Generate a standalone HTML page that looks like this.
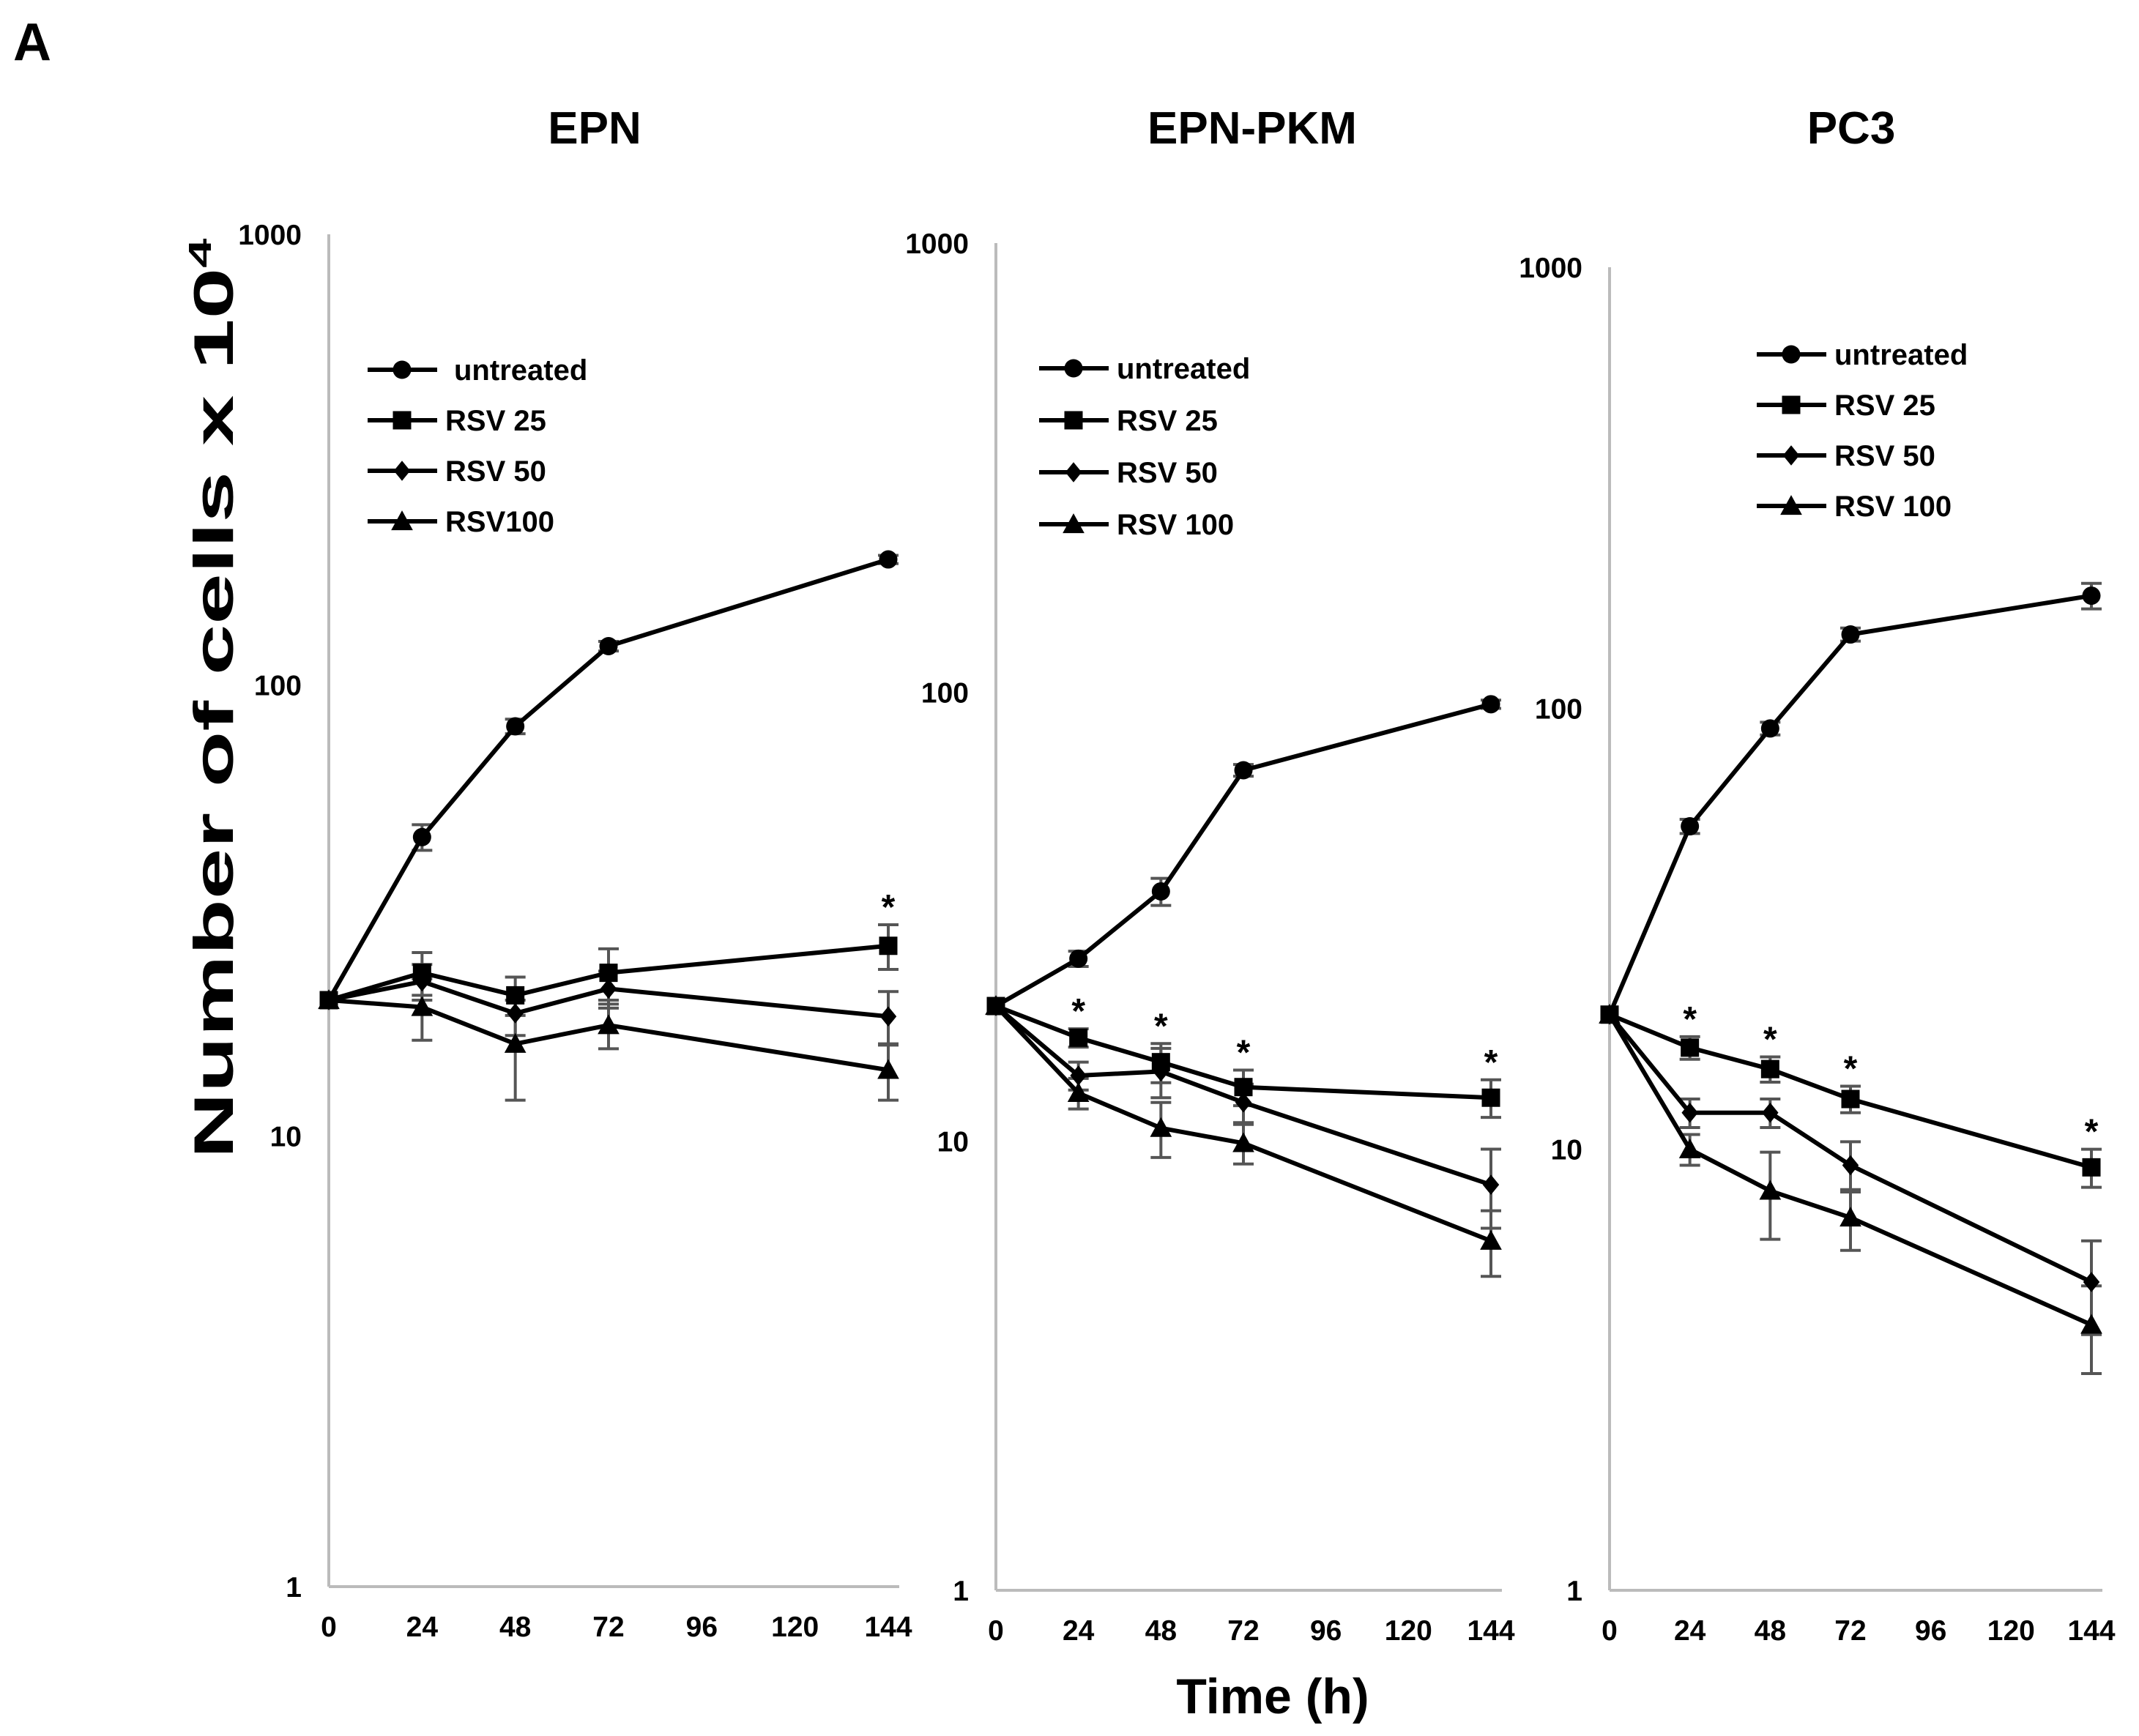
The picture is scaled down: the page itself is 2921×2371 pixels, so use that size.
<!DOCTYPE html>
<html><head><meta charset="utf-8"><style>
html,body{margin:0;padding:0;background:#fff;}
svg{display:block;font-family:"Liberation Sans",Arial,sans-serif;}
</style></head><body>
<svg id="fig" width="2921" height="2371" viewBox="0 0 2921 2371" xmlns="http://www.w3.org/2000/svg">
<text x="18" y="82" font-size="72" font-weight="bold">A</text>
<text x="0" y="0" font-size="76" font-weight="bold" font-family="'Liberation Sans Narrow','Liberation Sans',sans-serif" transform="translate(318,954) rotate(-90)" text-anchor="middle" textLength="1257" lengthAdjust="spacingAndGlyphs">Number of cells x 10<tspan font-size="44" dy="-30">4</tspan></text>
<text x="1738" y="2340" font-size="68" font-weight="bold" text-anchor="middle">Time (h)</text>
<g id="plots"></g>
</svg>
<script>
const times=[0,24,48,72,144];
const xTicks=[0,24,48,72,96,120,144];
const yTicks=[1,10,100,1000];
const seriesNames=["untreated","RSV 25","RSV 50","RSV 100"];
const epnTitle="EPN", pkmTitle="EPN-PKM", pc3Title="PC3";
const epnUntreated=[20,46,81,122,190];
const epnRsv25=[20,23,20.5,23,26.4];
const epnRsv50=[20,22,18.7,21.2,18.4];
const epnRsv100=[20,19.3,16,17.6,14];
const epnErrUntreated=[0,3,3,3,4];
const epnErrRsv25=[0,2.5,2,3,3];
const epnErrRsv50=[0,2,2,2,2.5];
const epnErrRsv100=[0,3,4,2,2];
const pkmUntreated=[20,25.5,36,67,94];
const pkmRsv25=[20,17,15,13.2,12.5];
const pkmRsv50=[20,14,14.3,12.2,8];
const pkmRsv100=[20,12.8,10.7,9.9,6];
const pkmErrUntreated=[0,1,2.5,2,2];
const pkmErrRsv25=[0,0.8,1.5,1.2,1.2];
const pkmErrRsv50=[0,1,1.8,1.2,1.6];
const pkmErrRsv100=[0,1,1.5,1,1];
const pc3Untreated=[20.2,54,90,147,180];
const pc3Rsv25=[20.2,17,15.2,13,9.1];
const pc3Rsv50=[20.2,12.1,12.1,9.2,5.0];
const pc3Rsv100=[20.2,10,8.05,7.0,4.0];
const pc3ErrUntreated=[0,2,3,5,12];
const pc3ErrRsv25=[0,1,1,0.9,0.9];
const pc3ErrRsv50=[0,0.9,0.9,1.2,1.2];
const pc3ErrRsv100=[0,0.8,1.8,1.1,0.9];
const epnStars=[144];
const pkmStars=[24,48,72,144];
const pc3Stars=[24,48,72,144];
const epnLegend=["untreated","RSV 25","RSV 50","RSV100"];

const NS="http://www.w3.org/2000/svg";
const root=document.getElementById('plots');
function mk(tag,attrs,parent){const e=document.createElementNS(NS,tag);for(const k in attrs)e.setAttribute(k,attrs[k]);(parent||root).appendChild(e);return e;}

function marker(g,type,x,y,s){
  let e;
  if(type===0){e=mk('circle',{cx:x,cy:y,r:s*0.5,fill:'#000'},g);}
  else if(type===1){e=mk('rect',{x:x-s*0.5,y:y-s*0.5,width:s,height:s,fill:'#000'},g);}
  else if(type===2){e=mk('polygon',{points:`${x},${y-s*0.55} ${x+s*0.45},${y} ${x},${y+s*0.55} ${x-s*0.45},${y}`,fill:'#000'},g);}
  else {e=mk('polygon',{points:`${x},${y-s*0.55} ${x+s*0.55},${y+s*0.45} ${x-s*0.55},${y+s*0.45}`,fill:'#000'},g);}
  return e;
}

function panel(cfg){
  const g=mk('g',{});
  
  
  const xs=v=>cfg.x0+(v/144)*(cfg.x1-cfg.x0);
  const ys=v=>cfg.yBot-Math.log10(v)*(cfg.yBot-cfg.yTop)/3;
  const t=mk('text',{x:cfg.titleX,y:196,'font-size':62,'font-weight':'bold','text-anchor':'middle'},g);
  t.textContent=cfg.title;
  
  
  const ya=mk('line',{x1:cfg.x0,y1:cfg.yTop,x2:cfg.x0,y2:cfg.yBot,stroke:'#bbb','stroke-width':4},g);
  
  
  const xa=mk('line',{x1:cfg.x0,y1:cfg.yBot,x2:cfg.x1+15,y2:cfg.yBot,stroke:'#bbb','stroke-width':4},g);
  
  
  yTicks.forEach(v=>{
    const e=mk('text',{x:cfg.x0-37,y:ys(v)+14,'font-size':39,'font-weight':'bold','text-anchor':'end'},g);
    e.textContent=v;
    
    
  });
  xTicks.forEach(v=>{
    const e=mk('text',{x:xs(v),y:cfg.yBot+68,'font-size':39,'font-weight':'bold','text-anchor':'middle'},g);
    e.textContent=v;
    
    
  });
  cfg.series.forEach((vals,si)=>{
    const errs=cfg.errs[si];
    vals.forEach((v,i)=>{
      if(errs[i]>0){
        const x=xs(times[i]),y1=ys(v+errs[i]),y2=ys(Math.max(v-errs[i],0.5));
        const eb=mk('path',{d:`M${x},${y1}V${y2}M${x-14},${y1}H${x+14}M${x-14},${y2}H${x+14}`,stroke:'#555','stroke-width':4,fill:'none'},g);
        
        
      }
    });
  });
  cfg.series.forEach((vals,si)=>{
    const pts=vals.map((v,i)=>xs(times[i])+','+ys(v)).join(' ');
    const l=mk('polyline',{points:pts,fill:'none',stroke:'#000','stroke-width':6,'stroke-linejoin':'round'},g);
    
    
    vals.forEach((v,i)=>{
      const m=marker(g,si,xs(times[i]),ys(v),si===3?27:25);
      
      
    });
  });
  cfg.stars.forEach(tm=>{
    const i=times.indexOf(tm);
    const v=cfg.series[1][i]+cfg.errs[1][i];
    const s=mk('text',{x:xs(tm),y:ys(v)-8,'font-size':48,'font-weight':'bold','text-anchor':'middle'},g);
    s.textContent='*';
    
    
  });
  cfg.legendNames.forEach((n,i)=>{
    const y=cfg.legY+i*cfg.legDy;
    const lg=mk('g',{},g);
    
    
    mk('line',{x1:cfg.legX,y1:y,x2:cfg.legX+95,y2:y,stroke:'#000','stroke-width':6},lg);
    marker(lg,i,cfg.legX+47,y,i===3?27:25);
    const tx=mk('text',{x:cfg.legX+106+(i===0?cfg.untreatedShift:0),y:y+14,'font-size':40,'font-weight':'bold'},lg);
    tx.textContent=n;
  });
}

panel({id:'epn',title:epnTitle,titleX:812,x0:449,x1:1213,yTop:320,yBot:2167,
  series:[epnUntreated,epnRsv25,epnRsv50,epnRsv100],errs:[epnErrUntreated,epnErrRsv25,epnErrRsv50,epnErrRsv100],
  stars:epnStars,legendNames:epnLegend,legX:502,legY:505,legDy:69,untreatedShift:12});
panel({id:'epn-pkm',title:pkmTitle,titleX:1710,x0:1360,x1:2036,yTop:332,yBot:2172,
  series:[pkmUntreated,pkmRsv25,pkmRsv50,pkmRsv100],errs:[pkmErrUntreated,pkmErrRsv25,pkmErrRsv50,pkmErrRsv100],
  stars:pkmStars,legendNames:seriesNames,legX:1419,legY:503,legDy:71,untreatedShift:0});
panel({id:'pc3',title:pc3Title,titleX:2528,x0:2198,x1:2856,yTop:365,yBot:2172,
  series:[pc3Untreated,pc3Rsv25,pc3Rsv50,pc3Rsv100],errs:[pc3ErrUntreated,pc3ErrRsv25,pc3ErrRsv50,pc3ErrRsv100],
  stars:pc3Stars,legendNames:seriesNames,legX:2399,legY:484,legDy:69,untreatedShift:0});
</script>
</body></html>
